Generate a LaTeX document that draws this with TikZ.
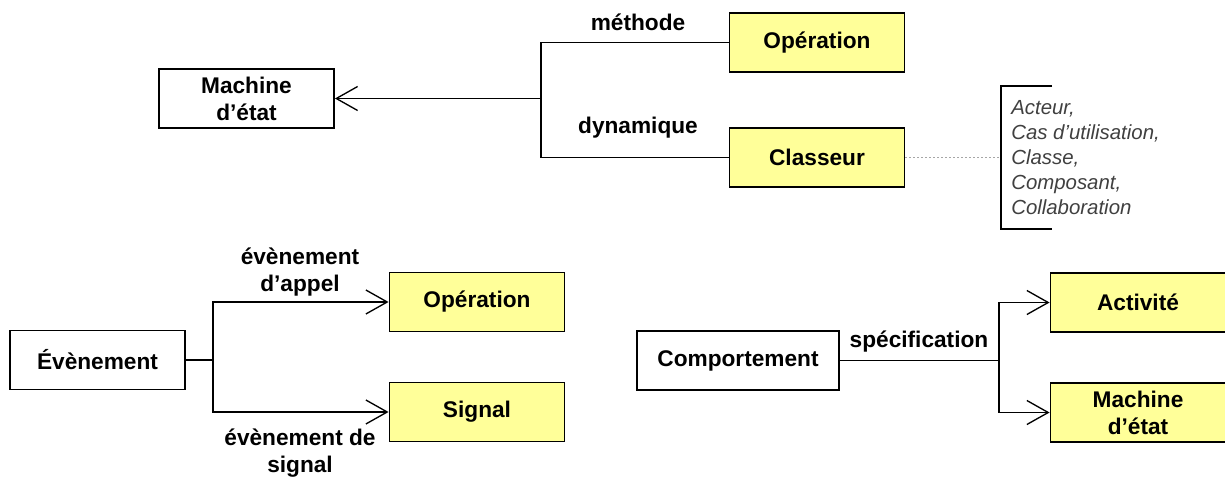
\documentclass[tikz,border=0pt]{standalone}
\usepackage{fontspec}
\setmainfont{Liberation Sans}
\usetikzlibrary{arrows.meta}
\definecolor{boxyellow}{HTML}{FFFF99}
\definecolor{notegray}{HTML}{404040}
\begin{document}
\begin{tikzpicture}[x=0.75pt,y=-0.75pt,
  box/.style={draw=black,line width=1.4pt,minimum width=131.25pt,minimum height=44.25pt,
    inner sep=2pt,align=center,font=\fontsize{17}{20.25}\selectfont\bfseries},
  ybox/.style={box,fill=boxyellow},
  lbl/.style={align=center,inner sep=0pt,font=\fontsize{17}{20.25}\selectfont\bfseries},
  conn/.style={line width=1pt},
  arr/.style={conn,-{Straight Barb[length=16pt,width=18pt,line width=1pt]}}]
\useasboundingbox (0,0) rectangle (1225,482);
% top part
\node[box] (mach) at (246.5,98.5) {Machine\\d’état};
\node[ybox] (opTop) at (817,42.5) {Opération};
\node[ybox] (cls) at (817,157.5) {Classeur};
\coordinate (b1) at (541,98.5);
\draw[conn] (opTop.west) -| (b1) |- (cls.west);
\draw[arr] (b1) -- (mach.east);
\node[lbl] (lmeth) at (638,22) {méthode};
\node[lbl] (ldyn) at (638,128) {dynamique};
% note
\coordinate (brk) at (1001,157.5);
\draw[line width=0.9pt] (1052,86) -- (1001,86) -- (1001,229) -- (1052,229);
\draw[gray!70,dotted,line width=1pt] (cls.east) -- (brk);
\node[anchor=west,align=left,inner sep=0pt,text=notegray,
  font=\fontsize{15.3}{18.75}\selectfont\itshape] (note) at (1011,158)
  {Acteur,\\Cas d’utilisation,\\Classe,\\Composant,\\Collaboration};
% bottom left
\node[box] (evt) at (97.5,360) {Évènement};
\node[ybox] (opB) at (477,302) {Opération};
\node[ybox] (sig) at (477,412) {Signal};
\coordinate (b2) at (213,360);
\draw[conn] (evt.east) -- (b2);
\draw[arr] (b2) |- (opB.west);
\draw[arr] (b2) |- (sig.west);
\node[lbl] (lapp) at (300,272.5) {évènement\\d’appel};
\node[lbl] (lsig) at (300,453) {évènement de\\signal};
% bottom right
\node[box,minimum width=151.5pt] (comp) at (738,360.5) {Comportement};
\node[ybox] (act) at (1138,302.5) {Activité};
\node[ybox] (machB) at (1138,412.5) {Machine\\d’état};
\coordinate (b3) at (999,360.5);
\draw[conn] (comp.east) -- (b3);
\draw[arr] (b3) |- (act.west);
\draw[arr] (b3) |- (machB.west);
\node[lbl] (lspec) at (919,342) {spécification};
\end{tikzpicture}
\end{document}
